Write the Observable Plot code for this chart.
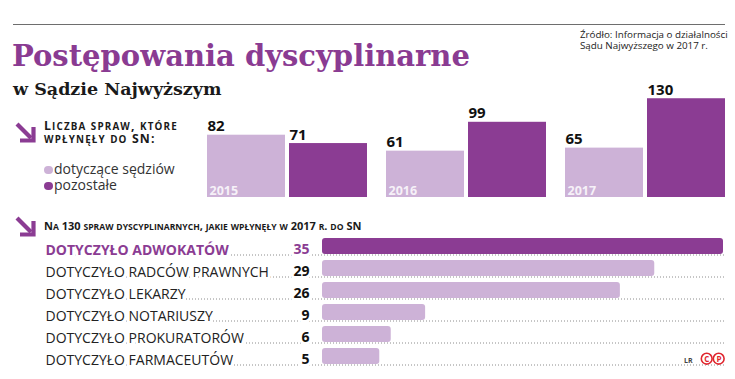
<!DOCTYPE html>
<html lang="pl">
<head>
<meta charset="utf-8">
<script src="https://cdn.jsdelivr.net/npm/d3@7"></script>
<script src="https://cdn.jsdelivr.net/npm/@observablehq/plot@0.6"></script>
<style>
  body { margin: 0; background: #fff; }
  #chart { position: relative; width: 735px; height: 379px; overflow: hidden;
           font-family: "Open Sans", "DejaVu Sans", sans-serif; color: #222; }
  .abs { position: absolute; white-space: nowrap; line-height: 1; }
  .topline { position: absolute; left: 13px; top: 24px; width: 712px; height: 1px; background: #6e6e6e; }
  .title { left: 12px; top: 41.5px; font-family: "DejaVu Serif", serif; font-weight: 700;
           font-size: 29px; color: #8a3b92; }
  .subtitle { left: 13px; top: 81.2px; font-family: "DejaVu Serif", serif; font-weight: 700;
              font-size: 17.5px; color: #1a1a1a; }
  .source { left: 580px; top: 30.3px; font-size: 9.8px; line-height: 10.2px; color: #222; }
  .head { font-weight: 700; color: #1a1a1a; }
  .head1 { font-size: 12.3px; letter-spacing: 1.15px; }
  .head2 { font-size: 11px; letter-spacing: 0px; }
  .legend-item { font-size: 14px; color: #333; }
  .dot { display: inline-block; width: 8.6px; height: 8.6px; border-radius: 50%;
         position: absolute; }
  .arrow { position: absolute; }
  #columns, #bars { position: absolute; }
  #columns { left: 205px; top: 80px; }
  #bars { left: 0; top: 230px; }
</style>
</head>
<body>
<div id="chart">
  <div class="topline"></div>
  <div class="abs title">Postępowania dyscyplinarne</div>
  <div class="abs subtitle">w Sądzie Najwyższym</div>
  <div class="abs source">Źródło: Informacja o działalności<br>Sądu Najwyższego w 2017 r.</div>

  <svg class="arrow" style="left:15px;top:122px" width="22" height="22" viewBox="0 0 22 22">
    <line x1="2" y1="2" x2="16" y2="16" stroke="#8b3c93" stroke-width="4.2"/>
    <polyline points="5,18.5 18.5,18.5 18.5,5" fill="none" stroke="#8b3c93" stroke-width="4.2" stroke-linejoin="miter"/>
  </svg>
  <div class="abs head head1" id="head1a" style="left:44px;top:120px"></div>
  <div class="abs head head1" id="head1b" style="left:44px;top:132.5px"></div>
  <div id="legend"></div>

  <div id="columns"></div>

  <svg class="arrow" style="left:15px;top:216px" width="22" height="22" viewBox="0 0 22 22">
    <line x1="2" y1="2" x2="16" y2="16" stroke="#8b3c93" stroke-width="4.2"/>
    <polyline points="5,18.5 18.5,18.5 18.5,5" fill="none" stroke="#8b3c93" stroke-width="4.2" stroke-linejoin="miter"/>
  </svg>
  <div class="abs head head2" id="head2" style="left:44px;top:219.5px"></div>

  <div id="bars"></div>

  <svg style="position:absolute;left:680px;top:350px" width="52" height="18">
    <text x="4" y="12.5" font-family="Open Sans" font-size="7" font-weight="700" fill="#444">LR</text>
    <circle cx="26.7" cy="8.7" r="5.4" fill="none" stroke="#e0262e" stroke-width="1.6"/>
    <text x="26.7" y="11.6" text-anchor="middle" font-family="Open Sans" font-size="8" font-weight="700" fill="#e0262e">C</text>
    <circle cx="38.7" cy="8.7" r="5.4" fill="none" stroke="#e0262e" stroke-width="1.6"/>
    <text x="38.9" y="11.6" text-anchor="middle" font-family="Open Sans" font-size="8" font-weight="700" fill="#e0262e">P</text>
  </svg>
</div>

<script>
// Cases received by the Supreme Court, by year
const years = ["2015", "2016", "2017"];
const seriesNames = ["dotyczące sędziów", "pozostałe"];
const judgesCases = [82, 61, 65];
const otherCases = [71, 99, 130];
const seriesColors = ["#cdb2d7", "#8b3c93"];

// Breakdown of the 130 disciplinary cases received in 2017
const professions = [
  "DOTYCZYŁO ADWOKATÓW",
  "DOTYCZYŁO RADCÓW PRAWNYCH",
  "DOTYCZYŁO LEKARZY",
  "DOTYCZYŁO NOTARIUSZY",
  "DOTYCZYŁO PROKURATORÓW",
  "DOTYCZYŁO FARMACEUTÓW"
];
const professionCases = [35, 29, 26, 9, 6, 5];

const headingOne = ["Liczba spraw, które", "wpłynęły do SN:"];
const headingTwo = "Na 130 spraw dyscyplinarnych, jakie wpłynęły w 2017 r. do SN";

const light = seriesColors[0], dark = seriesColors[1];
const sans = "Open Sans, DejaVu Sans, sans-serif";

// Small caps: capitals at full size, lowercase letters as smaller capitals
function smallCaps(el, text, ratio) {
  for (const ch of text) {
    const span = document.createElement("span");
    const isLower = ch !== ch.toUpperCase();
    span.textContent = ch.toUpperCase();
    if (isLower) span.style.fontSize = ratio + "em";
    el.appendChild(span);
  }
}
smallCaps(document.getElementById("head1a"), headingOne[0], 0.8);
smallCaps(document.getElementById("head1b"), headingOne[1], 0.8);
smallCaps(document.getElementById("head2"), headingTwo, 0.78);

// Legend
const legend = document.getElementById("legend");
seriesNames.forEach((name, i) => {
  const dot = document.createElement("span");
  dot.className = "dot";
  dot.style.left = "44.2px";
  dot.style.top = (165.7 + i * 16) + "px";
  dot.style.background = seriesColors[i];
  legend.appendChild(dot);
  const label = document.createElement("div");
  label.className = "abs legend-item";
  label.style.left = "54px";
  label.style.top = (161.6 + i * 16) + "px";
  label.textContent = name;
  legend.appendChild(label);
});

// Grouped columns, one facet per year
const yearRows = years.flatMap((year, i) => [
  {year, series: seriesNames[0], value: judgesCases[i]},
  {year, series: seriesNames[1], value: otherCases[i]}
]);

const columns = Plot.plot({
  width: 520,
  height: 117,
  marginTop: 0, marginRight: 0, marginBottom: 0, marginLeft: 0,
  facet: {data: yearRows, x: "year"},
  fx: {domain: years, paddingInner: 0.103, paddingOuter: 0, axis: null, label: null},
  x: {domain: seriesNames, paddingInner: 0.05, paddingOuter: 0, axis: null, label: null},
  y: {domain: [0, 154], axis: null},
  color: {domain: seriesNames, range: seriesColors},
  style: {fontFamily: sans, background: "transparent", overflow: "visible"},
  marks: [
    Plot.barY(yearRows, {x: "series", y: "value", fill: "series"}),
    Plot.text(yearRows, {
      x: "series", y: "value", text: "value",
      textAnchor: "start", lineAnchor: "bottom", dx: -39, dy: -4,
      fontFamily: sans, fontSize: 15, fontWeight: 700, fill: "#111"
    }),
    Plot.text(yearRows, {
      filter: d => d.series === seriesNames[0],
      x: "series", y: 0, text: "year",
      textAnchor: "start", lineAnchor: "bottom", dx: -37, dy: -2.5,
      fontFamily: sans, fontSize: 12.5, fontWeight: 700, fill: "#f6f1f8"
    })
  ]
});
document.getElementById("columns").appendChild(columns);

// Horizontal bars with dotted leaders
const profRows = professions.map((name, i) => ({name, value: professionCases[i], lead: i === 0}));
const W = 735, H = 149, ML = 322, MR = 12;
const xMax = d3.max(professionCases);
const xs = Plot.scale({x: {domain: [0, xMax], range: [ML, W - MR]}});

const bars = Plot.plot({
  width: W,
  height: H,
  marginTop: 5, marginRight: MR, marginBottom: 12, marginLeft: ML,
  x: {domain: [0, xMax], axis: null},
  y: {domain: professions, paddingInner: 0.27, paddingOuter: 0.135, axis: null},
  style: {fontFamily: sans, background: "transparent", overflow: "visible"},
  marks: [
    Plot.ruleY(profRows, {
      y: "name", x1: xs.invert(45), x2: xs.invert(725), dy: 8.5,
      stroke: "#8c8c8c", strokeWidth: 1, strokeDasharray: "1 2"
    }),
    Plot.barX(profRows, {y: "name", x: "value", fill: d => d.lead ? dark : light, rx: 3}),
    Plot.text(profRows, {
      filter: d => !d.lead,
      y: "name", x: xs.invert(45), text: "name", textAnchor: "start", dy: 4,
      fontFamily: sans, fontSize: 14, fill: "#222",
      stroke: "white", strokeWidth: 6, paintOrder: "stroke"
    }),
    Plot.text(profRows, {
      filter: d => d.lead,
      y: "name", x: xs.invert(45), text: "name", textAnchor: "start", dy: 4,
      fontFamily: sans, fontSize: 14, fontWeight: 700, fill: dark,
      stroke: "white", strokeWidth: 6, paintOrder: "stroke"
    }),
    Plot.text(profRows, {
      y: "name", x: 0, text: "value", textAnchor: "end", dx: -13, dy: 3.5,
      fontFamily: sans, fontSize: 14, fontWeight: 700, fill: d => d.lead ? dark : "#111",
      stroke: "white", strokeWidth: 6, paintOrder: "stroke"
    })
  ]
});
document.getElementById("bars").appendChild(bars);
</script>
</body>
</html>
